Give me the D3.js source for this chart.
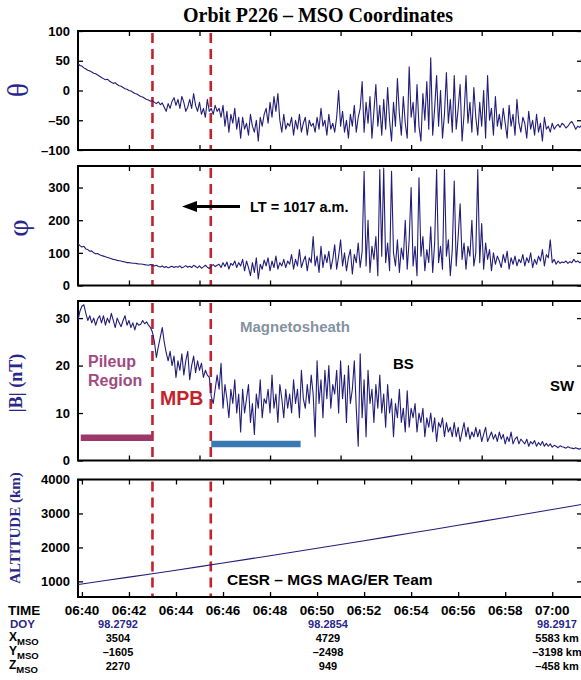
<!DOCTYPE html>
<html><head><meta charset="utf-8">
<script src="https://cdn.jsdelivr.net/npm/d3@7"></script>
<style>body{margin:0;background:#fff}svg{display:block}</style>
</head><body>
<svg id="chart" width="581" height="680"></svg>
<script>
// ---- DATA ----
// samples every 5 s, starting 06:39:50 (seconds relative to 06:40:00)
const sampleStartSec = -10;
const sampleStepSec = 5;

const thetaValues = [
  45, 42, 41, 38, 36, 34, 33, 31, 29, 28, 26, 24,
  22, 20, 18, 19, 16, 14, 12, 13, 10, 8, 7, 5,
  3, 2, 0, -1, -3, -5, -6, -8, -10, -11, -13, -15,
  -16, -18, -17, -20, -22, -19, -24, -21, -28, -35, -22, -30,
  -18, -12, -25, -15, -30, -10, -20, -35, -28, -15, -30, -5,
  -25, -35, -20, -40, -30, -45, -15, -35, -30, -40, -25, -35,
  -30, -45, -25, -60, -35, -70, -40, -55, -30, -65, -45, -80,
  -45, -65, -55, -75, -40, -60, -70, -50, -85, -45, -60, -40,
  -30, -55, -20, -45, -10, -35, -5, -50, -70, -40, -65, -55,
  -60, -45, -75, -50, -65, -40, -70, -55, -45, -75, -50, -60,
  -55, -70, -45, -65, -30, -60, -50, -75, -40, -65, -55, -70,
  -45, 0, -60, -35, -70, -50, -80, -40, -60, -25, -70, -45,
  -30, 15, -70, -20, -55, -10, -80, -35, 10, -60, -25, -75,
  -15, -65, 5, -50, -85, -20, -60, 20, -40, -75, -10, -55,
  -80, 40, -45, -20, -70, 10, -60, -85, -5, -50, 15, -65,
  55, -75, -30, 25, -60, 0, -80, -40, 30, -55, -15, -70,
  25, -65, -30, 10, -85, -40, 25, -55, -20, -70, 5, -45,
  -75, -20, -60, 0, -80, 25, -50, -30, -75, -10, -60, -40,
  -65, -30, -55, -80, -25, -60, -40, -75, -15, -55, -70, -45,
  -55, -80, -35, -65, -50, -75, -40, -70, -55, -85, -45, -65,
  -60, -70, -55, -65, -60, -57, -62, -55, -58, -63, -60, -55,
  -52, -58, -65, -60, -62, -58, -60, -62, -58, -60, -62, -60
];

const phiValues = [
  128, 122, 118, 120, 112, 110, 105, 106, 100, 97, 98, 94,
  92, 90, 88, 86, 84, 82, 80, 79, 77, 76, 75, 73,
  72, 70, 70, 69, 68, 68, 67, 66, 66, 65, 64, 63,
  62, 64, 61, 60, 62, 58, 57, 60, 55, 58, 54, 57,
  59, 55, 58, 56, 60, 54, 57, 61, 56, 59, 55, 62,
  58, 54, 60, 53, 57, 62, 56, 52, 60, 64, 58, 62,
  65, 55, 70, 58, 72, 50, 68, 62, 75, 55, 70, 60,
  80, 45, 75, 55, 30, 70, 40, 85, 20, 65, 50, 78,
  60, 85, 45, 75, 55, 90, 50, 70, 60, 80, 55, 75,
  65, 95, 50, 80, 60, 110, 55, 75, 90, 45, 85, 70,
  150, 60, 90, 40, 120, 55, 95, 70, 105, 50, 80, 125,
  50, 90, 140, 60, 100, 45, 85, 110, 35, 95, 70, 130,
  55, 105, 350, 60, 200, 40, 120, 80, 150, 30, 355, 90,
  360, 70, 130, 45, 350, 100, 60, 140, 40, 115, 80, 200,
  50, 140, 300, 60, 120, 30, 330, 90, 150, 45, 110, 70,
  180, 40, 130, 355, 70, 120, 50, 355, 90, 140, 30, 110,
  320, 60, 150, 250, 80, 130, 50, 120, 90, 200, 60, 100,
  355, 70, 190, 50, 130, 80, 110, 45, 100, 65, 90, 75,
  55, 95, 70, 105, 50, 85, 65, 90, 60, 80, 70, 95,
  60, 85, 70, 100, 55, 80, 65, 90, 75, 110, 60, 95,
  85, 140, 70, 80, 65, 75, 68, 72, 70, 75, 68, 73,
  70, 80, 72, 75, 70, 72, 70, 72, 70, 71, 70, 72
];

const bValues = [
  29.5, 31.5, 32.5, 32.8, 31, 29.5, 30.5, 29, 30, 28.5, 29.8, 30.5,
  29, 30.5, 28.5, 30, 29, 31, 29.5, 28, 30, 29, 28.2, 29.5,
  30.5, 28.5, 29.5, 28, 29, 27.5, 29, 28.5, 28.7, 29.5, 28.8, 29.2,
  28.5, 28, 27, 25, 21.7, 24, 26, 28, 25, 22.7, 21, 23,
  20, 22, 17.5, 21, 19, 22.5, 18, 21, 23, 17, 20, 22,
  18.5, 21, 19, 20.5, 17.5, 19, 18, 17.5, 13.5, 12, 15, 18,
  15, 20.5, 11, 16, 13, 9, 15, 12, 17, 10, 14, 6,
  15, 10, 13, 16, 8, 12, 5.5, 14, 11, 17, 9, 13,
  12, 15, 10, 18, 11, 14, 8, 16, 13, 9, 15, 11,
  14, 10, 17, 12, 15, 9, 19, 13, 11, 16, 12, 18,
  14, 5, 21, 12, 17, 9, 19, 13, 20, 11, 16, 14,
  19, 10, 21, 13, 18, 8, 20, 12, 15, 21, 11, 3,
  22.5, 9, 17, 5, 19, 12, 15, 8, 16, 11, 18, 10,
  14, 7, 16, 10, 13, 5, 12, 9, 15, 8, 11, 6,
  14.7, 7, 11, 9, 12, 6, 10, 8, 11, 5, 9, 7,
  10, 6, 9, 4, 8, 7, 9, 5, 8, 6, 7, 5,
  8, 5, 7, 4, 6, 8, 5, 7, 4.5, 6, 5, 7,
  5, 6.5, 4, 5.5, 7, 4, 5, 6, 4.5, 5.5, 4, 6,
  4.5, 5.5, 3.5, 5, 4, 6, 3.5, 4.5, 5, 3.5, 4.5, 4,
  3.5, 4.5, 3, 4, 3.5, 4.2, 3, 3.8, 3.2, 4, 3, 3.6,
  3, 3.5, 2.8, 3.2, 3, 2.7, 3.1, 2.9, 2.8, 2.6, 2.9, 2.7,
  2.6, 2.5, 2.7, 2.5, 2.4, 2.6, 2.5, 2.4, 2.5, 2.6, 2.5, 2.4
];

// altitude (km) at minutes after 06:40
const altMinutes = [-0.2, 0, 1, 2, 3, 4, 5, 6, 7, 8, 9, 10, 11, 12, 13, 14, 15, 16, 17, 18, 19, 20, 21, 21.5];
const altValues  = [905, 925, 1025, 1125, 1225, 1330, 1435, 1540, 1648, 1756, 1865, 1975, 2085, 2197, 2310, 2423, 2537, 2652, 2767, 2883, 3000, 3118, 3236, 3295];

const timeLabels = ["06:40","06:42","06:44","06:46","06:48","06:50","06:52","06:54","06:56","06:58","07:00"];
const boundaryMinutes = [3.0, 5.48];   // MPB boundaries
const thetaTicks = [-100, -50, 0, 50, 100];
const phiTicks = [0, 100, 200, 300];
const bTicks = [0, 10, 20, 30];
const altTicks = [1000, 2000, 3000, 4000];
const doyLabels = ["98.2792", "98.2854", "98.2917"];
const xMsoLabels = ["3504", "4729", "5583 km"];
const yMsoLabels = ["\u20131605", "\u20132498", "\u20133198 km"];
const zMsoLabels = ["2270", "949", "\u2013458 km"];

// ---- DRAW ----
const svg = d3.select("#chart");
const NAVY = "#231d78", LABELNAVY = "#2a278a", RED = "#c3222b";
const SANS = "'Liberation Sans', Arial, Helvetica, sans-serif";
const SERIF = "'Liberation Serif', 'Times New Roman', serif";

const x = d3.scaleLinear().domain([-10 / 60, 21.3]).range([78, 582.8]);
const times = d3.range(thetaValues.length).map(i => (sampleStartSec + i * sampleStepSec) / 60);

svg.append("text").attr("x", 318).attr("y", 22).attr("text-anchor", "middle")
  .attr("font-family", SERIF).attr("font-weight", "bold").attr("font-size", 20)
  .text("Orbit P226 \u2013 MSO Coordinates");

function panel(id, top, bottom, domain, ticks, xTickMins) {
  const y = d3.scaleLinear().domain(domain).range([bottom, top]);
  const g = svg.append("g");
  g.append("clipPath").attr("id", "clip" + id).append("rect")
    .attr("x", 78).attr("y", top).attr("width", 505).attr("height", bottom - top);
  const ya = d3.axisLeft(y).tickValues(ticks).tickSize(0).tickPadding(8)
    .tickFormat(d => (d < 0 ? "\u2013" + Math.abs(d) : String(d)));
  const yg = g.append("g").attr("transform", "translate(78,0)").call(ya);
  yg.select(".domain").remove();
  yg.selectAll("text").attr("font-family", SANS).attr("font-weight", "bold").attr("font-size", 13).attr("fill", "#000");
  const yi = d3.axisRight(y).tickValues(ticks).tickSize(5).tickFormat("");
  g.append("g").attr("transform", "translate(78,0)").call(yi).select(".domain").remove();
  const yr = d3.axisLeft(y).tickValues(ticks).tickSize(5).tickFormat("");
  g.append("g").attr("transform", "translate(582,0)").call(yr).select(".domain").remove();
  const xb = d3.axisTop(x).tickValues(xTickMins).tickSize(5).tickFormat("");
  g.append("g").attr("transform", `translate(0,${bottom})`).call(xb).select(".domain").remove();
  const xt = d3.axisBottom(x).tickValues(xTickMins).tickSize(5).tickFormat("");
  g.append("g").attr("transform", `translate(0,${top})`).call(xt).select(".domain").remove();
  g.selectAll(".tick line").attr("stroke", "#000").attr("stroke-width", 1.3);
  g.selectAll("line.bd").data(boundaryMinutes).join("line").attr("class", "bd")
    .attr("x1", d => x(d)).attr("x2", d => x(d)).attr("y1", top + 2).attr("y2", bottom)
    .attr("stroke", RED).attr("stroke-width", 2.6).attr("stroke-dasharray", "10,6");
  g.append("rect").attr("x", 78).attr("y", top).attr("width", 510).attr("height", bottom - top)
    .attr("fill", "none").attr("stroke", "#000").attr("stroke-width", 2);
  return { y, g, clip: "url(#clip" + id + ")" };
}

function series(p, ts, vals) {
  p.g.append("path").datum(vals.map((v, i) => [ts[i], v]))
    .attr("clip-path", p.clip)
    .attr("fill", "none").attr("stroke", NAVY).attr("stroke-width", 1.1)
    .attr("stroke-linejoin", "round")
    .attr("d", d3.line().x(d => x(d[0])).y(d => p.y(d[1])));
}

const threeMin = [2, 5, 8, 11, 14, 17, 20];
const twoMin = d3.range(0, 21, 2);

const p1 = panel("t", 31, 150, [-100, 100], thetaTicks, threeMin);
series(p1, times, thetaValues);
const p2 = panel("p", 166, 285.5, [0, 366], phiTicks, threeMin);
series(p2, times, phiValues);
const p3 = panel("b", 301, 460.5, [0, 33.6], bTicks, threeMin);
series(p3, times, bValues);
const p4 = panel("a", 479.5, 597, [540, 4000], altTicks, twoMin);
series(p4, altMinutes, altValues);

function ytitle(txt, cx, cy, size, family, weight) {
  svg.append("text").attr("transform", `translate(${cx},${cy}) rotate(-90)`)
    .attr("text-anchor", "middle").attr("dominant-baseline", "central")
    .attr("font-family", family).attr("font-weight", weight).attr("font-size", size)
    .attr("fill", LABELNAVY).text(txt);
}
ytitle("\u03B8", 17, 90, 30, SERIF, "normal");
ytitle("\u03C6", 17, 228, 30, SERIF, "normal");
ytitle("|B| (nT)", 16, 383, 18, SERIF, "bold");
ytitle("ALTITUDE (km)", 15, 528, 15, SERIF, "bold");

function label(txt, xx, yy, size, color, anchor) {
  svg.append("text").attr("x", xx).attr("y", yy).attr("text-anchor", anchor || "start")
    .attr("font-family", SANS).attr("font-weight", "bold").attr("font-size", size)
    .attr("fill", color).text(txt);
}
// LT arrow
svg.append("line").attr("x1", 240).attr("x2", 194).attr("y1", 206.5).attr("y2", 206.5)
  .attr("stroke", "#000").attr("stroke-width", 3);
svg.append("path").attr("d", "M182,206.5 L197,201 L197,212 Z").attr("fill", "#000");
label("LT = 1017 a.m.", 250, 212, 14.5, "#000");
label("Magnetosheath", 240, 332, 15, "#8592a2");
label("Pileup", 88, 367, 16, "#a24a80");
label("Region", 88, 386, 16, "#a24a80");
label("MPB", 160, 405, 19.5, RED);
label("BS", 393, 369, 15, "#000");
label("SW", 550, 391, 15, "#000");
label("CESR \u2013 MGS MAG/ER Team", 227, 585, 15.5, "#000");

svg.append("line").attr("x1", x(-0.05)).attr("x2", x(3.0)).attr("y1", 437.7).attr("y2", 437.7)
  .attr("stroke", "#9b3769").attr("stroke-width", 6.5);
svg.append("line").attr("x1", x(5.5)).attr("x2", x(9.3)).attr("y1", 444).attr("y2", 444)
  .attr("stroke", "#3b79b2").attr("stroke-width", 6.5);

// bottom table
label("TIME", 8, 614.5, 13.5, "#000");
svg.selectAll("text.tl").data(timeLabels).join("text").attr("class", "tl")
  .attr("x", (d, i) => x(i * 2)).attr("y", 614.5).attr("text-anchor", "middle")
  .attr("font-family", SANS).attr("font-weight", "bold").attr("font-size", 13.5).text(d => d);
label("DOY", 10, 628, 11.5, LABELNAVY);
const colX = [118, 328, 557];
function row(vals, yy, color) {
  vals.forEach((v, i) => label(v, colX[i], yy, 11, color, "middle"));
}
row(doyLabels, 628, LABELNAVY);
row(xMsoLabels, 641.5, "#000");
row(yMsoLabels, 655.5, "#000");
row(zMsoLabels, 669.5, "#000");
[["X", 641], ["Y", 655], ["Z", 669]].forEach(([c, yy]) => {
  const t = svg.append("text").attr("x", 9).attr("y", yy).attr("font-family", SANS)
    .attr("font-weight", "bold").attr("font-size", 12).attr("fill", "#000");
  t.append("tspan").text(c);
  t.append("tspan").attr("dy", 3.5).attr("font-size", 9.5).text("MSO");
});
</script>
</body></html>
